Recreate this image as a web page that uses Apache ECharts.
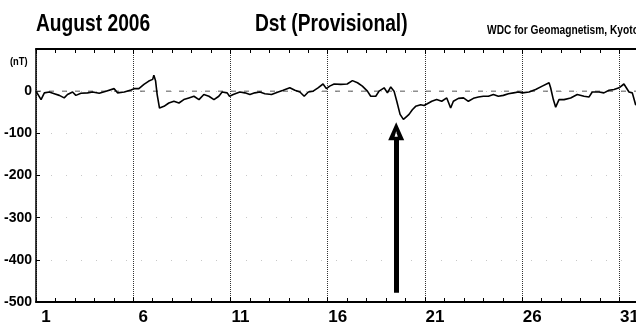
<!DOCTYPE html>
<html>
<head>
<meta charset="utf-8">
<script src="https://cdn.jsdelivr.net/npm/echarts@6/dist/echarts.min.js"></script>
<style>html,body{margin:0;padding:0;background:#fff;}#c{width:636px;height:330px;}</style>
</head>
<body>
<div id="c"></div>
<script>
// Day of month (fractional, 1.0 = Aug 1 00:00)
const days = [1.0,1.26,1.43,1.68,1.94,2.2,2.45,2.62,2.88,3.05,3.31,3.65,3.91,4.25,4.6,5.02,5.19,5.54,5.88,6.05,
  6.29,6.55,6.8,7.0,7.06,7.15,7.23,7.35,7.58,7.83,8.09,8.35,8.6,8.86,9.12,9.38,9.63,9.89,10.15,10.4,10.57,10.83,
  10.95,11.14,11.48,11.74,12.0,12.25,12.51,12.77,13.11,13.45,13.71,14.05,14.31,14.57,14.79,15.0,15.25,15.5,15.76,
  15.93,16.1,16.33,16.67,17.0,17.27,17.53,17.78,18.04,18.21,18.47,18.64,18.9,19.07,19.24,19.41,19.55,19.72,19.89,
  20.01,20.18,20.35,20.52,20.78,20.95,21.12,21.35,21.6,21.86,22.12,22.32,22.46,22.72,22.98,23.23,23.49,23.75,24.0,
  24.26,24.52,24.77,25.03,25.29,25.55,25.81,26.0,26.35,26.69,27.03,27.38,27.46,27.6,27.72,27.89,28.15,28.49,28.83,
  29.18,29.43,29.6,29.95,30.2,30.46,30.72,30.98,31.23,31.49,31.66,31.83,32.0];
// Dst values (nT)
const dst = [0,-20,-4,-2,-6,-10,-16,-8,-2,-10,-5,-4,-2,-5,0,6,-4,-2,3,6,
  6,16,24,28,38,24,-8,-40,-36,-28,-24,-28,-20,-16,-12,-20,-8,-12,-20,-12,-2,-4,
  -12,-8,-2,-4,-8,-4,-2,-6,-8,-2,2,8,2,-2,-12,-2,0,8,17,
  6,12,17,16,17,25,20,12,0,-12,-12,0,8,-4,10,0,-24,-55,-67,
  -62,-55,-44,-36,-32,-34,-30,-24,-20,-24,-16,-40,-24,-17,-16,-24,-17,-14,-12,
  -12,-8,-12,-10,-6,-4,-2,-4,-2,4,12,20,8,-20,-38,-20,-20,-16,-8,
  -12,-14,-2,-2,-4,2,4,8,17,-2,-4,-32,-30];
// Reference (quiet) level line: day range and value
const refDays = [1, 32];
const refLevel = 0;
// x-axis tick labels (day of month)
const dayLabels = ['1','6','11','16','21','26','31'];
// y-axis tick values
const yTicks = [100,0,-100,-200,-300,-400,-500];
// Arrow annotation (day, from value, to value, head centre value)
const arrowDay = 19.52;
const arrowFrom = -478;
const arrowTo = -112;
const arrowHead = -95;

const FONT = "'Liberation Sans','Arial',sans-serif";
const chart = echarts.init(document.getElementById('c'), null, {renderer:'canvas'});

const xBase = {
  type:'value', min:0, max:30.85, interval:5,
  axisLine:{show:true, onZero:false, lineStyle:{color:'#000', width:2}},
  axisTick:{show:true, inside:true, length:5, lineStyle:{color:'#000', width:1}},
  minorTick:{show:true, splitNumber:5, length:4, lineStyle:{color:'#000', width:1}},
};

function titleText(txt, x, y, size, sx){
  return {type:'text', x:x, y:y, scaleX:sx, scaleY:1, silent:true,
    style:{text:txt, fill:'#000', font:'bold '+size+'px '+FONT, textVerticalAlign:'top', textAlign:'left'}};
}

chart.setOption({
  animation:false,
  backgroundColor:'#fff',
  graphic:[
    titleText('August 2006', 36, 12, 24, 0.8),
    titleText('Dst (Provisional)', 255, 12, 24, 0.8),
    titleText('WDC for Geomagnetism, Kyoto', 487, 25, 12, 0.85),
    titleText('(nT)', 10, 56, 11, 0.85)
  ],
  grid:{left:36, top:49, right:0, height:253, containLabel:false, outerBoundsMode:'none'},
  xAxis:[
    Object.assign({}, xBase, {
      position:'bottom',
      splitLine:{show:true, lineStyle:{color:'#333', type:[1,1], width:1}},
      axisLabel:{
        margin:7, showMaxLabel:false,
        formatter:function(v){ if (v % 5 !== 0) return ''; const i = v/5; return dayLabels[i] ? '{a|'+dayLabels[i]+'}' : ''; },
        rich:{a:{fontFamily:FONT, fontSize:17, fontWeight:'bold', color:'#000', padding:[0,0,0,20]}}
      }
    }),
    Object.assign({}, xBase, {
      position:'top',
      splitLine:{show:false},
      axisLabel:{show:false}
    })
  ],
  yAxis:{
    type:'value', min:-500, max:100, interval:100,
    axisLine:{show:true, onZero:false, lineStyle:{color:'#000', width:1.5}},
    axisTick:{show:true, inside:true, length:4, lineStyle:{color:'#000'}},
    splitLine:{show:true, lineStyle:{color:'#c8c8c8', type:[1,14], width:1}},
    axisLabel:{
      margin:4, fontFamily:FONT, fontSize:14, fontWeight:'bold', color:'#000',
      formatter:function(v){ return yTicks.indexOf(v) >= 0 && v !== 100 ? String(v) : ''; }
    }
  },
  series:[{
    type:'line',
    xAxisIndex:0,
    data: refDays.map(function(d){ return [d-1, refLevel]; }),
    showSymbol:false,
    silent:true,
    lineStyle:{color:'#555', width:1, type:[5,8]},
    clip:true,
    z:2
  },{
    type:'line',
    xAxisIndex:0,
    data: days.map(function(d,i){ return [d-1, dst[i]]; }),
    showSymbol:false,
    lineStyle:{color:'#000', width:1.6},
    clip:true,
    z:3,
    markLine:{
      silent:true, symbol:['none','none'],
      label:{show:false},
      data:[
        [{coord:[arrowDay-1, arrowFrom], lineStyle:{color:'#000', width:5, type:'solid'}},{coord:[arrowDay-1, arrowTo]}]
      ]
    },
    markPoint:{
      silent:true,
      label:{show:false},
      data:[{coord:[arrowDay-1, arrowHead], symbol:'path://M50,0 L100,100 L0,100 Z M50,50 L40,80 L60,80 Z', symbolSize:[16,18], itemStyle:{color:'#000'}}]
    }
  }]
});
</script>
</body>
</html>
